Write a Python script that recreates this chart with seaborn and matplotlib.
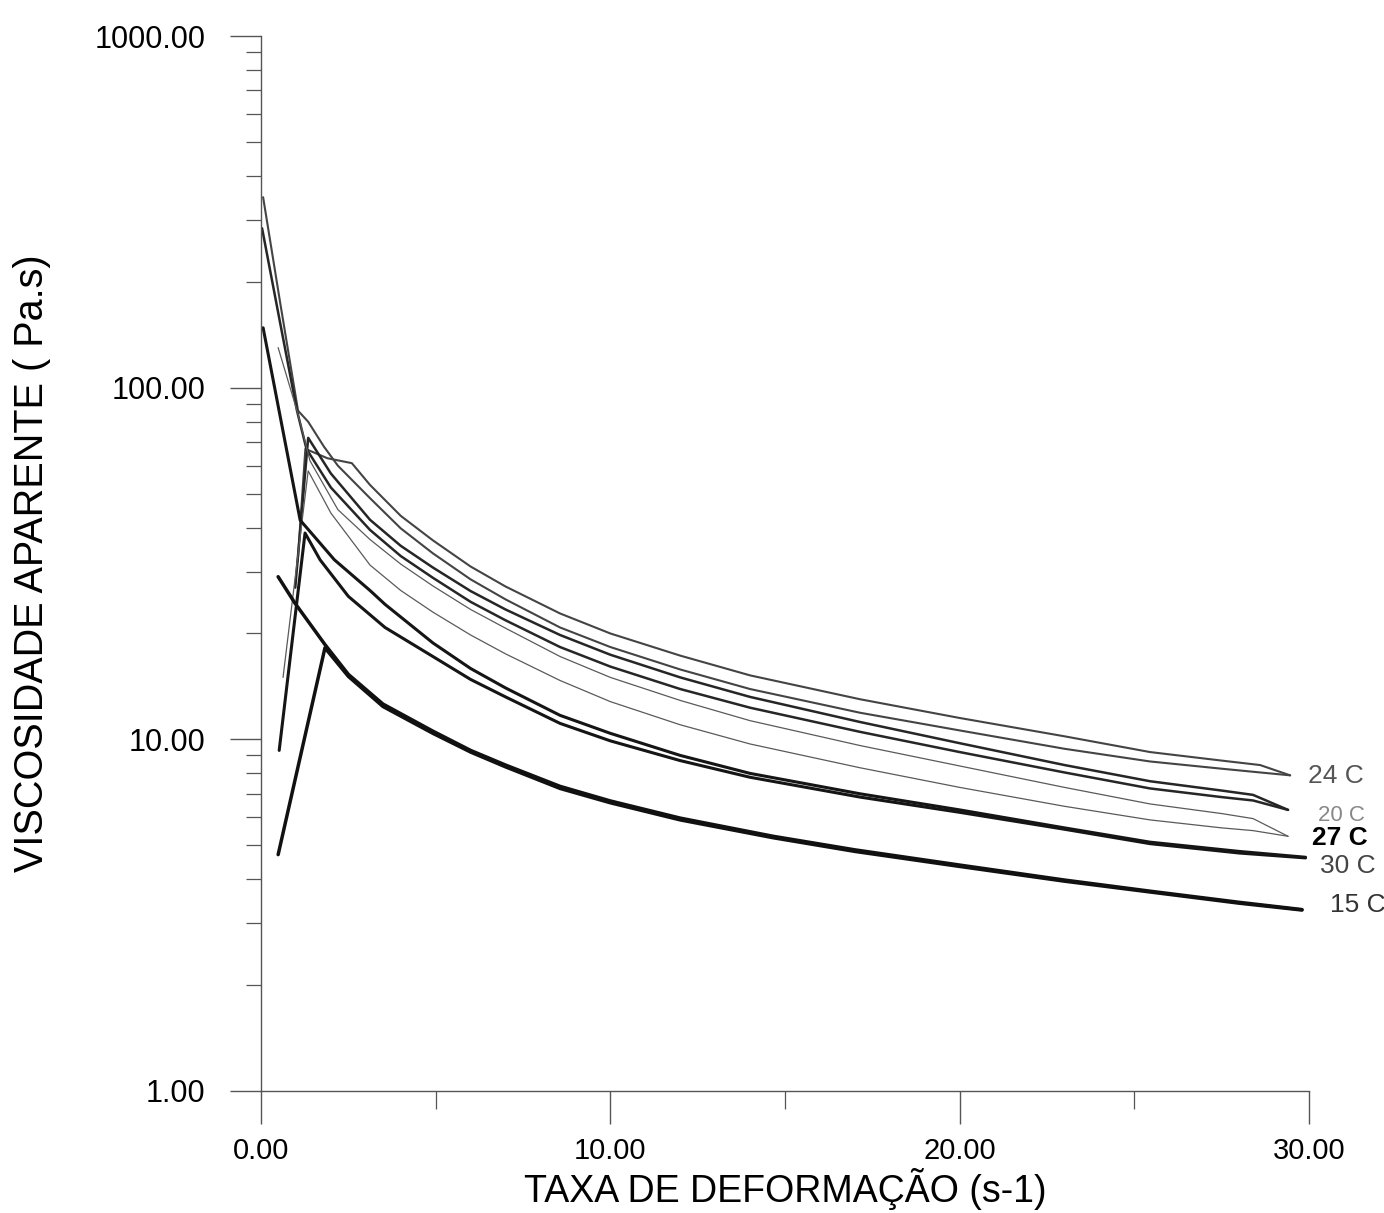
import matplotlib
matplotlib.use("Agg")
import matplotlib.pyplot as plt
from matplotlib.ticker import FixedLocator, NullFormatter, FuncFormatter
import seaborn as sns
import pandas as pd

# Apparent viscosity (Pa.s) vs shear rate (1/s): up and down ramps per temperature
t15_up_x = [0.49, 1.83, 2.5, 3.49, 4.92, 6.0, 7.0, 8.56, 10.0, 12.0, 14.66, 17.0, 20.0, 23.0, 25.45, 28.0, 29.8]
t15_up_y = [4.7, 18.2, 15.1, 12.4, 10.4, 9.2, 8.35, 7.25, 6.6, 5.9, 5.25, 4.8, 4.35, 3.95, 3.68, 3.42, 3.27]
t15_down_x = [0.49, 0.97, 1.83, 2.5, 3.49, 4.92, 6.0, 7.0, 8.56, 10.0, 12.0, 14.66, 17.0, 20.0, 23.0, 25.45, 28.0, 29.8]
t15_down_y = [29.0, 24.4, 18.6, 15.3, 12.6, 10.55, 9.3, 8.45, 7.35, 6.68, 5.97, 5.3, 4.85, 4.39, 3.98, 3.7, 3.44, 3.28]

t30_up_x = [0.52, 1.26, 1.69, 2.5, 3.55, 4.92, 6.0, 7.0, 8.56, 10.0, 12.0, 14.0, 17.15, 20.0, 23.0, 25.45, 28.0, 29.9]
t30_up_y = [9.3, 38.6, 32.4, 25.5, 20.8, 17.2, 14.8, 13.2, 11.1, 9.9, 8.7, 7.8, 6.85, 6.2, 5.55, 5.05, 4.75, 4.6]
t30_down_x = [0.06, 0.46, 1.12, 1.6, 2.1, 3.12, 3.55, 4.92, 6.0, 7.0, 8.56, 10.0, 12.0, 14.0, 17.15, 20.0, 23.0, 25.45, 28.0, 29.9]
t30_down_y = [148.0, 92.0, 42.0, 37.0, 32.4, 26.5, 24.2, 18.8, 15.9, 14.0, 11.7, 10.4, 9.0, 8.0, 7.0, 6.3, 5.6, 5.1, 4.8, 4.62]

t24_up_x = [1.05, 1.27, 1.9, 2.6, 3.12, 4.0, 4.92, 6.0, 7.0, 8.56, 10.0, 12.0, 14.0, 17.15, 20.0, 23.0, 25.45, 27.5, 28.6, 29.46]
t24_up_y = [32.0, 67.0, 63.0, 61.0, 52.9, 43.2, 36.8, 31.0, 27.2, 22.8, 20.0, 17.3, 15.2, 13.0, 11.5, 10.2, 9.2, 8.7, 8.45, 7.9]
t24_down_x = [0.06, 0.55, 1.06, 1.35, 1.8, 2.2, 3.12, 4.0, 4.92, 6.0, 7.0, 8.56, 10.0, 12.0, 14.0, 17.15, 20.0, 23.0, 25.45, 27.5, 28.6, 29.46]
t24_down_y = [348.0, 174.0, 86.0, 80.0, 68.0, 60.0, 48.5, 39.8, 33.8, 28.5, 25.0, 20.8, 18.3, 15.8, 13.9, 11.9, 10.6, 9.4, 8.65, 8.25, 8.05, 7.9]

t20_up_x = [0.98, 1.35, 2.0, 3.12, 4.0, 4.92, 6.0, 7.0, 8.56, 10.0, 12.0, 14.0, 17.15, 20.0, 23.0, 25.45, 27.5, 28.4, 29.4]
t20_up_y = [27.0, 72.0, 57.0, 42.1, 35.5, 30.8, 26.4, 23.4, 19.8, 17.4, 15.0, 13.2, 11.2, 9.75, 8.45, 7.6, 7.15, 6.95, 6.3]
t20_down_x = [0.03, 0.53, 1.03, 1.3, 2.0, 3.12, 4.0, 4.92, 6.0, 7.0, 8.56, 10.0, 12.0, 14.0, 17.15, 20.0, 23.0, 25.45, 27.5, 28.4, 29.4]
t20_down_y = [284.0, 156.0, 86.0, 67.0, 52.0, 39.4, 33.2, 28.8, 24.6, 21.8, 18.3, 16.1, 13.9, 12.3, 10.5, 9.2, 8.05, 7.25, 6.85, 6.7, 6.3]

t27_up_x = [0.63, 1.35, 2.0, 3.12, 4.0, 4.92, 6.0, 7.0, 8.56, 10.0, 12.0, 14.0, 17.15, 20.0, 23.0, 25.45, 27.5, 28.4, 29.4]
t27_up_y = [15.0, 58.0, 44.0, 31.3, 26.5, 23.0, 19.8, 17.5, 14.7, 12.8, 11.0, 9.7, 8.3, 7.3, 6.45, 5.9, 5.6, 5.5, 5.3]
t27_down_x = [0.49, 1.06, 1.4, 2.2, 3.12, 4.0, 4.92, 6.0, 7.0, 8.56, 10.0, 12.0, 14.0, 17.15, 20.0, 23.0, 25.45, 27.5, 28.4, 29.4]
t27_down_y = [130.0, 84.0, 62.0, 45.0, 37.0, 31.5, 27.3, 23.4, 20.7, 17.2, 15.0, 12.9, 11.3, 9.6, 8.4, 7.3, 6.55, 6.15, 5.95, 5.3]

temp_labels = ["24 C", "20 C", "27 C", "30 C", "15 C"]
label_x = [29.97, 30.26, 30.09, 30.32, 30.6]
label_y = [7.87, 6.09, 5.24, 4.36, 3.38]

y_ticks = [1, 10, 100, 1000]
x_ticks = [0, 10, 20, 30]

curves = [
    ("24 C", t24_up_x, t24_up_y, t24_down_x, t24_down_y, "#444444", 1.5),
    ("20 C", t20_up_x, t20_up_y, t20_down_x, t20_down_y, "#262626", 1.8),
    ("27 C", t27_up_x, t27_up_y, t27_down_x, t27_down_y, "#5a5a5a", 0.9),
    ("30 C", t30_up_x, t30_up_y, t30_down_x, t30_down_y, "#151515", 2.2),
    ("15 C", t15_up_x, t15_up_y, t15_down_x, t15_down_y, "#111111", 2.5),
]

rows = []
for name, ux, uy, dx, dy, _, _ in curves:
    rows += [dict(temp=name, ramp="up", x=a, y=b) for a, b in zip(ux, uy)]
    rows += [dict(temp=name, ramp="down", x=a, y=b) for a, b in zip(dx, dy)]
df = pd.DataFrame(rows)

sns.set_theme(style="white")
plt.rcParams["font.family"] = ["Liberation Sans", "DejaVu Sans"]

fig = plt.figure(figsize=(13.84, 12.13), dpi=100)
ax = fig.add_axes([0.1886, 0.1006, 0.7572, 0.8697])

for name, _, _, _, _, color, lw in curves:
    sub = df[df["temp"] == name]
    sns.lineplot(data=sub, x="x", y="y", units="ramp", estimator=None, sort=False,
                 color=color, linewidth=lw, ax=ax, legend=False)

ax.set_yscale("log")
ax.set_xlim(0, 30)
ax.set_ylim(1, 1000)

for s in ["top", "right"]:
    ax.spines[s].set_visible(False)
for s in ["left", "bottom"]:
    ax.spines[s].set_color("#555555")
    ax.spines[s].set_linewidth(1.0)

ax.yaxis.set_major_locator(FixedLocator(y_ticks))
ax.yaxis.set_major_formatter(FuncFormatter(lambda v, p: f"{v:.2f}"))
minor_y = [m * d for d in (1, 10, 100) for m in range(2, 10)]
ax.yaxis.set_minor_locator(FixedLocator(minor_y))
ax.yaxis.set_minor_formatter(NullFormatter())

ax.xaxis.set_major_locator(FixedLocator(x_ticks))
ax.xaxis.set_major_formatter(FuncFormatter(lambda v, p: f"{v:.2f}"))
ax.xaxis.set_minor_locator(FixedLocator([5, 15, 25]))

ax.tick_params(axis="y", which="major", direction="out", length=22, width=1.0,
               color="#555555", labelsize=22, labelcolor="black", pad=18, left=True)
ax.tick_params(axis="y", which="minor", direction="out", length=11, width=0.9,
               color="#555555", left=True)
ax.tick_params(axis="x", which="major", direction="out", length=24, width=1.0,
               color="#555555", labelsize=21, labelcolor="black", pad=9, bottom=True)
ax.tick_params(axis="x", which="minor", direction="out", length=13, width=0.9,
               color="#555555", bottom=True)

ax.set_xlabel("TAXA DE DEFORMAÇÃO (s-1)", fontsize=27, color="black", labelpad=2)
ax.set_ylabel("VISCOSIDADE APARENTE ( Pa.s)", fontsize=28.5, color="black", labelpad=31)

label_style = {
    "24 C": dict(fontsize=19, color="#555555", fontweight="normal"),
    "20 C": dict(fontsize=16, color="#888888", fontweight="normal"),
    "27 C": dict(fontsize=19, color="#000000", fontweight="bold"),
    "30 C": dict(fontsize=19, color="#444444", fontweight="normal"),
    "15 C": dict(fontsize=19, color="#333333", fontweight="normal"),
}
for txt, lx, ly in zip(temp_labels, label_x, label_y):
    ax.text(lx, ly, txt, ha="left", va="center", clip_on=False, **label_style[txt])

fig.savefig("out.png", dpi=100, facecolor="white")
